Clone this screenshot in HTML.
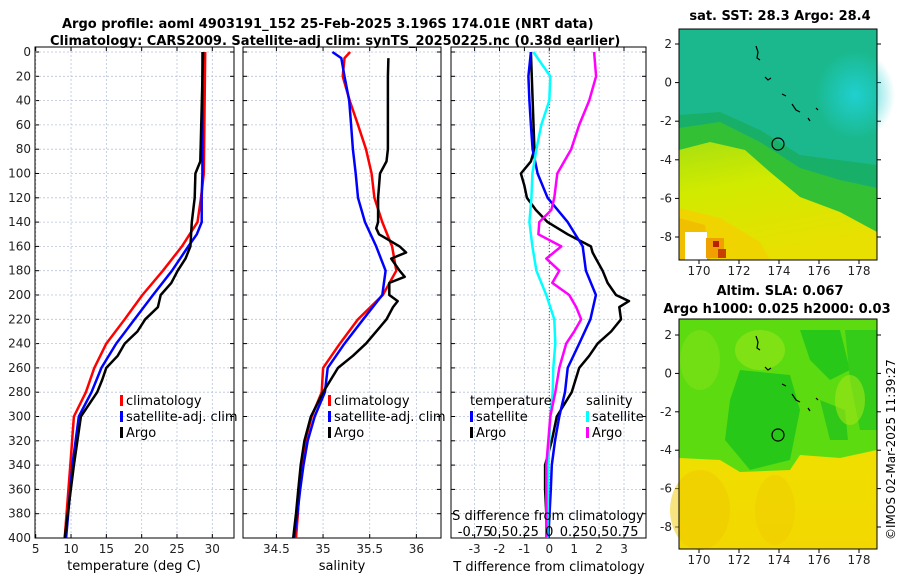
<!DOCTYPE html>
<html><head><meta charset="utf-8"><style>
html,body{margin:0;padding:0;background:#fff;}
svg{display:block;font-family:"DejaVu Sans","Liberation Sans",sans-serif;}
</style></head><body>
<svg id="fig" width="900" height="580" viewBox="0 0 900 580">
<defs>
<linearGradient id="yel" x1="0" y1="0" x2="0.3" y2="1">
<stop offset="0" stop-color="#a8e010"/><stop offset="0.4" stop-color="#d0ea00"/>
<stop offset="1" stop-color="#e8e000"/></linearGradient>
<linearGradient id="slay" x1="0" y1="0" x2="0" y2="1">
<stop offset="0" stop-color="#d8ee00"/><stop offset="0.5" stop-color="#f0e000"/>
<stop offset="1" stop-color="#f2d800"/></linearGradient>
<radialGradient id="cyanp" cx="0.5" cy="0.5" r="0.5"><stop offset="0" stop-color="#20d0d0"/><stop offset="1" stop-color="#20d0d0" stop-opacity="0"/></radialGradient>
</defs>
<g id="main"></g>
<text x="62" y="28" font-size="13" font-weight="bold">Argo profile: aoml 4903191_152 25-Feb-2025 3.196S 174.01E (NRT data)</text>
<text x="50" y="45" font-size="13" font-weight="bold">Climatology: CARS2009. Satellite-adj clim: synTS_20250225.nc (0.38d earlier)</text>
<text x="134" y="570" font-size="13" text-anchor="middle">temperature (deg C)</text>
<text x="342" y="570" font-size="13" text-anchor="middle">salinity</text>
<text x="549" y="571" font-size="13" text-anchor="middle">T difference from climatology</text>
<g>
<rect x="679" y="29" width="198" height="231" fill="#1ab88c"/>
<ellipse cx="855" cy="95" rx="40" ry="45" fill="url(#cyanp)"/>
<polygon points="679,115 720,112 760,130 800,155 877,165 877,260 679,260" fill="#18b068"/>
<polygon points="679,128 720,122 760,142 800,168 840,180 877,188 877,260 679,260" fill="#34c034"/>
<polygon points="679,150 710,142 745,150 770,172 800,197 840,212 877,232 877,260 679,260" fill="url(#yel)"/>
<polygon points="679,208 720,218 760,242 770,260 679,260" fill="#f0d400"/>
<polygon points="679,218 705,225 710,260 679,260" fill="#f0c000"/>
<rect x="685" y="232" width="22" height="28" fill="#fff"/>
<rect x="706" y="238" width="18" height="20" fill="#f0a000"/>
<rect x="713" y="241" width="6" height="6" fill="#b82000"/>
<rect x="718" y="249" width="8" height="9" fill="#c84000"/>
<g fill="none" stroke="#000" stroke-width="1.2">
<polyline points="756,46 758,52 757,58 760,60"/><polyline points="765,77 768,80 771,78"/>
<polyline points="782,94 786,96"/><polyline points="792,104 796,110 800,112"/>
<polyline points="816,108 818,110"/><polyline points="808,118 810,121"/>
</g>
<circle cx="778" cy="144" r="6" fill="none" stroke="#000" stroke-width="1.2"/>
<rect x="679" y="29" width="198" height="231" fill="none" stroke="#000"/>
</g>
<text x="780" y="20" font-size="13" font-weight="bold" text-anchor="middle">sat. SST: 28.3 Argo: 28.4</text>
<g>
<rect x="679" y="319" width="198" height="230" fill="url(#slay)"/>
<polygon points="679,319 877,319 877,450 840,458 800,455 790,470 740,472 720,460 679,458" fill="#5cdc10"/>
<polygon points="740,370 790,375 800,410 790,460 750,470 725,440 730,400" fill="#28c818"/>
<polygon points="800,330 840,330 850,370 830,380 810,360" fill="#28c818"/>
<polygon points="845,330 877,330 877,430 860,430 850,380" fill="#34cc18"/>
<polygon points="820,400 845,410 848,440 830,440" fill="#30c818"/>
<ellipse cx="760" cy="350" rx="25" ry="20" fill="#90e418" opacity="0.7"/>
<ellipse cx="700" cy="360" rx="20" ry="30" fill="#80e018" opacity="0.6"/>
<ellipse cx="850" cy="400" rx="15" ry="25" fill="#a0e418" opacity="0.6"/>
<ellipse cx="700" cy="510" rx="30" ry="40" fill="#f0c800" opacity="0.5"/>
<ellipse cx="775" cy="510" rx="20" ry="35" fill="#f0c800" opacity="0.4"/>
<g fill="none" stroke="#000" stroke-width="1.2">
<polyline points="756,336 758,342 757,348 760,350"/><polyline points="765,367 768,370 771,368"/>
<polyline points="782,384 786,386"/><polyline points="792,394 796,400 800,402"/>
<polyline points="816,398 818,400"/><polyline points="808,408 810,411"/>
</g>
<circle cx="778" cy="435" r="6" fill="none" stroke="#000" stroke-width="1.2"/>
<rect x="679" y="319" width="198" height="230" fill="none" stroke="#000"/>
</g>
<text x="780" y="295" font-size="13" font-weight="bold" text-anchor="middle">Altim. SLA: 0.067</text>
<text x="777" y="313" font-size="13" font-weight="bold" text-anchor="middle">Argo h1000: 0.025 h2000: 0.03</text>
<text transform="translate(895,540) rotate(-90)" font-size="12">©IMOS 02-Mar-2025 11:39:27</text>
</svg>
<script>
const depthTicks=[0,20,40,60,80,100,120,140,160,180,200,220,240,260,280,300,320,340,360,380,400];
const tTicks=[5,10,15,20,25,30];
const sTicks=[34.5,35,35.5,36];
const dTTicks=[-3,-2,-1,0,1,2,3];
const dSTickLabels=["-0.75","0.5","0.25","0","0.25","0.5","0.75"];
const dSTickVals=[-0.75,-0.5,-0.25,0,0.25,0.5,0.75];
const lonTicks=[170,172,174,176,178];
const latTicks=[2,0,-2,-4,-6,-8];
// temperature profiles
const tClimDepth=[0,100,120,140,160,180,200,220,240,260,280,300,340,400];
const tClim=[29.0,28.8,28.4,27.9,25.7,23.0,20.1,17.6,15.0,13.3,12.1,10.4,9.9,9.1];
const tSatDepth=[0,100,120,140,150,160,180,200,220,240,260,280,300,340,400];
const tSat=[28.6,28.6,28.5,28.5,27.8,26.6,24.3,21.6,19.0,16.4,14.3,12.9,11.1,10.2,9.3];
const tArgoDepth=[0,90,100,120,140,160,170,180,190,200,210,215,220,230,240,250,260,270,280,300,340,400];
const tArgo=[28.7,28.3,27.6,27.5,27.1,26.9,26.2,25.1,24.2,22.7,22.3,21.4,20.5,19.4,17.6,16.6,15.0,14.4,13.7,11.4,10.4,9.1];
// salinity profiles
const sClimDepth=[0,5,20,40,60,80,100,120,140,160,180,200,220,240,260,280,300,320,340,360,380,400];
const sClim=[35.29,35.23,35.21,35.285,35.375,35.46,35.52,35.55,35.635,35.74,35.785,35.64,35.375,35.18,35.0,34.985,34.878,34.81,34.77,34.745,34.73,34.71];
const sSatDepth=[0,5,20,40,60,80,100,120,140,160,180,200,220,240,260,280,300,320,340,360,380,400];
const sSat=[35.10,35.195,35.23,35.28,35.30,35.32,35.35,35.375,35.45,35.57,35.67,35.635,35.43,35.23,35.05,35.02,34.91,34.835,34.79,34.755,34.725,34.69];
const sArgoDepth=[5,20,80,90,100,120,140,145,150,160,165,170,180,185,190,200,205,210,220,240,250,260,280,300,320,340,360,380,400];
const sArgo=[35.70,35.695,35.695,35.68,35.61,35.59,35.59,35.57,35.60,35.82,35.89,35.73,35.82,35.875,35.71,35.71,35.80,35.75,35.68,35.46,35.32,35.16,35.0,34.87,34.80,34.76,34.735,34.71,34.68];
// differences
const dTSatDepth=[0,20,40,60,80,100,120,140,160,180,200,220,240,260,280,300,320,340,360,400];
const dTSat=[-0.74,-0.84,-0.8,-0.74,-0.67,-0.47,-0.07,0.74,1.34,1.47,1.87,1.65,1.2,0.74,0.63,0.4,0.23,0.1,0.06,-0.04];
const dTArgoDepth=[0,80,90,100,110,120,130,140,150,160,165,170,180,190,200,205,210,220,230,240,250,260,280,300,320,340,360,380,400];
const dTArgo=[-0.74,-0.6,-0.74,-1.14,-1.0,-0.9,-0.54,-0.07,0.74,1.67,1.74,1.87,2.14,2.34,2.68,3.2,2.81,2.88,2.48,1.94,1.6,1.2,0.9,0.3,0.1,-0.17,-0.17,-0.12,-0.08];
const dSSatDepth=[0,20,40,60,80,100,120,140,160,180,200,220,240,260,280,300,340,400];
const dSSat=[-0.16,0.01,0,-0.08,-0.13,-0.17,-0.18,-0.2,-0.17,-0.13,-0.03,0.05,0.06,0.04,0.034,0.01,-0.01,-0.02];
const dSArgoDepth=[0,20,40,60,80,100,120,130,140,150,160,170,180,190,200,210,220,230,240,260,280,300,320,340,400];
const dSArgo=[0.45,0.47,0.4,0.3,0.22,0.08,0.05,0.02,-0.1,-0.11,0.12,-0.03,0.1,0.03,0.2,0.27,0.32,0.25,0.17,0.1,0.06,0.01,-0.01,-0.03,-0.03];

const NS='http://www.w3.org/2000/svg';
const main=document.getElementById('main');
function mk(tag,attrs,parent){const e=document.createElementNS(NS,tag);for(const k in attrs)e.setAttribute(k,attrs[k]);(parent||main).appendChild(e);return e;}
const Y0=47,Y1=538;
function yD(d){return 52+d*1.215;}
function lin(d0,d1,p0,p1){return v=>p0+(v-d0)/(d1-d0)*(p1-p0);}
const panels=[
 {x0:35,x1:234,f:lin(4.9,33.07,35,234),ticks:tTicks,labels:tTicks.map(String),name:'temperature-panel',ylab:true},
 {x0:243,x1:441,f:lin(34.142,36.264,243,441),ticks:sTicks,labels:sTicks.map(String),name:'salinity-panel'},
 {x0:451,x1:646,f:lin(-3.948,3.883,451,646),ticks:dTTicks,labels:dTTicks.map(String),name:'difference-panel'}
];
panels.forEach(p=>{
 const g=mk('g',{});
 
 
 depthTicks.forEach(d=>{
  mk('line',{x1:p.x0,x2:p.x1,y1:yD(d),y2:yD(d),stroke:'#b8c4dc','stroke-dasharray':'2,2','stroke-width':0.8},g);
  mk('line',{x1:p.x0,x2:p.x0+4,y1:yD(d),y2:yD(d),stroke:'#000'},g);
  mk('line',{x1:p.x1,x2:p.x1-4,y1:yD(d),y2:yD(d),stroke:'#000'},g);
  if(p.ylab){const t=mk('text',{x:p.x0-4,y:yD(d)+4,'font-size':12,'text-anchor':'end',fill:'#222'},g);t.textContent=d;}
 });
 p.ticks.forEach((v,i)=>{
  const x=Math.max(p.x0,p.f(v));
  mk('line',{x1:x,x2:x,y1:Y0,y2:Y1,stroke:'#b8c4dc','stroke-dasharray':'2,2','stroke-width':0.8},g);
  mk('line',{x1:x,x2:x,y1:Y1,y2:Y1-4,stroke:'#000'},g);
  mk('line',{x1:x,x2:x,y1:Y0,y2:Y0+4,stroke:'#000'},g);
  const t=mk('text',{x:x,y:553,'font-size':12,'text-anchor':'middle',fill:'#222'},g);t.textContent=p.labels[i];
 });
 mk('rect',{x:p.x0,y:Y0,width:p.x1-p.x0,height:Y1-Y0,fill:'none',stroke:'#000'},g);
});
function line(px,depths,vals,color,name,w){
 const pts=depths.map((d,i)=>px(vals[i]).toFixed(1)+','+Math.min(Y1,yD(d)).toFixed(1)).join(' ');
 const e=mk('polyline',{points:pts,fill:'none',stroke:color,'stroke-width':w||2.5,'stroke-linejoin':'round'});
 
 
}
const fT=panels[0].f,fS=panels[1].f,fD=panels[2].f,fDS=v=>fD(v*4);
mk('line',{x1:fD(0),x2:fD(0),y1:Y0,y2:Y1,stroke:'#555','stroke-dasharray':'1,2'});
line(fT,tClimDepth,tClim,'#ff0000','temp-climatology-line');
line(fT,tSatDepth,tSat,'#0000ff','temp-satellite-line');
line(fT,tArgoDepth,tArgo,'#000','temp-argo-line');
line(fS,sClimDepth,sClim,'#ff0000','sal-climatology-line');
line(fS,sSatDepth,sSat,'#0000ff','sal-satellite-line');
line(fS,sArgoDepth,sArgo,'#000','sal-argo-line');
line(fD,dTArgoDepth,dTArgo,'#000','tdiff-argo-line');
line(fD,dTSatDepth,dTSat,'#0000ff','tdiff-satellite-line');
line(fDS,dSSatDepth,dSSat,'#00ffff','sdiff-satellite-line');
line(fDS,dSArgoDepth,dSArgo,'#ff00ff','sdiff-argo-line');
const st=mk('text',{x:548,y:520,'font-size':13,'text-anchor':'middle'});st.textContent='S difference from climatology';


dSTickVals.forEach((v,i)=>{const t=mk('text',{x:fDS(v),y:536,'font-size':13,'text-anchor':'middle'});t.textContent=dSTickLabels[i];});
function legend(x,y,items,name){
 const g=mk('g',{});
 
 
 items.forEach((it,i)=>{
  if(it[1])mk('rect',{x:x,y:y+i*16-10,width:3,height:11,fill:it[1]},g);
  const t=mk('text',{x:x+(it[1]?6:0),y:y+i*16,'font-size':13},g);t.textContent=it[0];
 });
}
legend(120,405,[['climatology','#ff0000'],['satellite-adj. clim','#0000ff'],['Argo','#000']],'temperature-legend');
legend(328,405,[['climatology','#ff0000'],['satellite-adj. clim','#0000ff'],['Argo','#000']],'salinity-legend');
legend(470,405,[['temperature',null],['satellite','#0000ff'],['Argo','#000']],'diff-temp-legend');
legend(586,405,[['salinity',null],['satellite','#00ffff'],['Argo','#ff00ff']],'diff-sal-legend');
const lonX=lin(170,178,699,859);
[[29,260,'sst'],[319,549,'sla']].forEach(m=>{
 const latY=m[2]==='sst'?lin(2,-8,44,237):lin(2,-8,335,527);
 latTicks.forEach(v=>{
  const y=latY(v);
  mk('line',{x1:877,x2:881,y1:y,y2:y,stroke:'#000'});
  mk('line',{x1:679,x2:675,y1:y,y2:y,stroke:'#000'});
  const t=mk('text',{x:672,y:y+4,'font-size':12,'text-anchor':'end',fill:'#222'});t.textContent=v;
 });
 lonTicks.forEach(v=>{
  const x=lonX(v);
  mk('line',{x1:x,x2:x,y1:m[1],y2:m[1]+4,stroke:'#000'});
  const t=mk('text',{x:x,y:m[1]+15,'font-size':12,'text-anchor':'middle',fill:'#222'});t.textContent=v;
 });
});
</script>
</body></html>
